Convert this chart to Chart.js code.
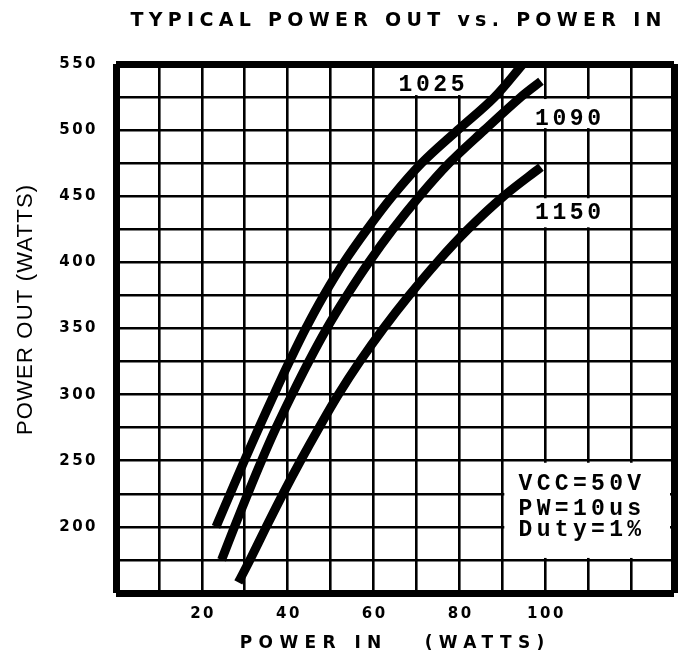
<!DOCTYPE html>
<html><head><meta charset="utf-8">
<script src="https://cdn.jsdelivr.net/npm/chart.js@4.4.0/dist/chart.umd.min.js"></script>
<style>html,body{margin:0;padding:0;background:#fff}#wrap{width:686px;height:655px;position:relative}</style>
</head><body><div id="wrap"><canvas id="c"></canvas></div>
<script>
// ---- data ----
const chartTitle = 'TYPICAL POWER OUT vs. POWER IN';
const xAxisTitle = 'POWER IN   (WATTS)';
const yAxisTitle = 'POWER OUT (WATTS)';
const xTickLabels = [20, 40, 60, 80, 100];
const yTickLabels = [200, 250, 300, 350, 400, 450, 500, 550];
const seriesNames = ['1025', '1090', '1150'];
const in1025  = [23.3, 26.6, 29.9, 33.3, 36.8, 40.4, 44.2, 48.4, 53.1, 58.5, 64.4, 71.2, 79.6, 88.2, 94.8];
const out1025 = [200, 225, 250, 275, 300, 325, 350, 375, 400, 425, 450, 475, 500, 525, 550];
const in1090  = [24.6, 27.6, 30.7, 33.9, 37.3, 41.0, 44.9, 49.1, 53.8, 58.9, 64.5, 70.7, 77.6, 85.8, 94.3, 99.0];
const out1090 = [175, 200, 225, 250, 275, 300, 325, 350, 375, 400, 425, 450, 475, 500, 525, 537];
const in1150  = [28.5, 31.2, 35.0, 38.9, 43.0, 47.3, 51.8, 56.8, 62.3, 68.3, 74.8, 82.0, 90.3, 99.0];
const out1150 = [158, 175, 200, 225, 250, 275, 300, 325, 350, 375, 400, 425, 450, 472];
const conditionLines = ['VCC=50V', 'PW=10us', 'Duty=1%'];

// ---- annotation placement (data coordinates) ----
const labelBoxes = [
  {x0: 60, x1: 90, y0: 525, y1: 550},
  {x0: 90, x1: 120, y0: 500, y1: 525},
  {x0: 90, x1: 120, y0: 425, y1: 450},
  {x0: 90, x1: 130, y0: 175, y1: 250}
];
const curveLabelPos = [{x: 73.5, y: 534}, {x: 105.3, y: 508}, {x: 105.3, y: 437}];
const conditionPos = {x: 93.8, y: [232.5, 213.5, 197.5]};

const toPts = (xs, ys) => xs.map((x, i) => ({x: x, y: ys[i]}));
const seriesIn = [in1025, in1090, in1150];
const seriesOut = [out1025, out1090, out1150];

function lineDs(i) {
  return {
    label: seriesNames[i],
    data: toPts(seriesIn[i], seriesOut[i]),
    borderColor: '#000',
    backgroundColor: '#000',
    borderWidth: 9,
    pointRadius: 0,
    tension: 0.35,
    fill: false,
    borderCapStyle: 'butt'
  };
}

const X_MIN = 0, X_MAX = 130, Y_MIN = 150, Y_MAX = 550;

function wrapDraw(chart, obj, name, spacing, dxFn, dyFn) {
  if (!obj || obj['__wrapped_' + name]) return;
  const orig = obj[name];
  obj[name] = function () {
    const c = chart.ctx;
    c.save();
    c.letterSpacing = spacing + 'px';
    const dx = dxFn ? dxFn(this) : 0, dy = dyFn ? dyFn(this) : 0;
    c.translate(dx, dy);
    const r = orig.apply(this, arguments);
    c.restore();
    return r;
  };
  obj['__wrapped_' + name] = true;
}

const spacingPlugin = {
  id: 'spacing',
  beforeDraw(chart) {
    const TL = 5.3, XL = 6.4, YL = 1.2, TK = 2.5;
    wrapDraw(chart, chart.titleBlock, 'draw', TL, b => 396 - (b.left + b.right) / 2 + TL / 2, null);
    wrapDraw(chart, chart.scales.x, 'drawTitle', XL, s => 392 - (s.left + s.right) / 2 + XL / 2, null);
    wrapDraw(chart, chart.scales.y, 'drawTitle', YL, null, s => 310 - (s.top + s.bottom) / 2 - YL / 2);
    wrapDraw(chart, chart.scales.x, 'drawLabels', TK, () => TK / 2, null);
    wrapDraw(chart, chart.scales.y, 'drawLabels', TK, null, null);
  }
};

const annotPlugin = {
  id: 'annot',
  beforeDatasetsDraw(chart) {
    const {ctx, scales: {x, y}} = chart;
    ctx.save();
    ctx.fillStyle = '#fff';
    labelBoxes.forEach(b => {
      const l = x.getPixelForValue(b.x0) + 2, r = x.getPixelForValue(b.x1) - 2;
      const t = y.getPixelForValue(b.y1) + 2, bt = y.getPixelForValue(b.y0) - 2;
      const rr = b.x1 >= X_MAX ? r - 2 : r;
      const tt = b.y1 >= Y_MAX ? t + 2 : t;
      ctx.fillRect(l, tt, rr - l, bt - tt);
    });
    ctx.restore();
  },
  afterDatasetsDraw(chart) {
    const {ctx, scales: {x, y}} = chart;
    ctx.save();
    ctx.fillStyle = '#000';
    ctx.font = 'bold 23px "Liberation Mono"';
    ctx.letterSpacing = '3.6px';
    ctx.textAlign = 'center';
    ctx.textBaseline = 'middle';
    seriesNames.forEach((n, i) => {
      ctx.fillText(n, x.getPixelForValue(curveLabelPos[i].x) + 1.8, y.getPixelForValue(curveLabelPos[i].y));
    });
    ctx.textAlign = 'left';
    ctx.letterSpacing = '4.3px';
    const lx = x.getPixelForValue(conditionPos.x);
    conditionLines.forEach((t, i) => {
      ctx.fillText(t, lx, y.getPixelForValue(conditionPos.y[i]));
    });
    ctx.restore();
  }
};

const edgeWidth = (c, lo, hi) => (c.tick && (c.tick.value === lo || c.tick.value === hi)) ? 7 : 2.6;

new Chart(document.getElementById('c'), {
  type: 'line',
  data: { datasets: [lineDs(0), lineDs(1), lineDs(2)] },
  options: {
    responsive: true,
    maintainAspectRatio: false,
    animation: false,
    layout: { padding: { left: 0, right: 5, top: 0, bottom: 0 } },
    plugins: {
      legend: { display: false },
      tooltip: { enabled: false },
      title: {
        display: true,
        text: chartTitle,
        color: '#000',
        font: { family: '"DejaVu Sans", sans-serif', weight: 'bold', size: 19, lineHeight: 1.2 },
        padding: { top: 10, bottom: 31.2 }
      }
    },
    scales: {
      x: {
        type: 'linear',
        min: X_MIN, max: X_MAX,
        ticks: {
          stepSize: 10, autoSkip: false, maxRotation: 0, color: '#000', padding: 12,
          font: { family: '"DejaVu Sans", sans-serif', weight: 'bold', size: 15 },
          callback: v => xTickLabels.includes(v) ? String(v) : ''
        },
        grid: { color: '#000', lineWidth: c => edgeWidth(c, X_MIN, X_MAX), drawTicks: false },
        border: { display: false },
        title: {
          display: true, text: xAxisTitle, color: '#000',
          font: { family: '"DejaVu Sans", sans-serif', weight: 'bold', size: 17, lineHeight: 1.2 },
          padding: { top: 0, bottom: 1.5 }
        },
        afterFit: s => { s.height = 62; }
      },
      y: {
        type: 'linear',
        min: Y_MIN, max: Y_MAX,
        ticks: {
          stepSize: 25, autoSkip: false, color: '#000', padding: 18,
          font: { family: '"DejaVu Sans", sans-serif', weight: 'bold', size: 15 },
          callback: v => yTickLabels.includes(v) ? String(v) : ''
        },
        grid: { color: '#000', lineWidth: c => edgeWidth(c, Y_MIN, Y_MAX), drawTicks: false },
        border: { display: false },
        title: {
          display: true, text: yAxisTitle, color: '#000',
          font: { family: '"Liberation Sans", Arial, sans-serif', weight: 'normal', size: 22, lineHeight: 1.2 },
          padding: { top: 13, bottom: 0 }
        },
        afterFit: s => { s.width = 116; }
      }
    }
  },
  plugins: [spacingPlugin, annotPlugin]
});
</script>
</body></html>
